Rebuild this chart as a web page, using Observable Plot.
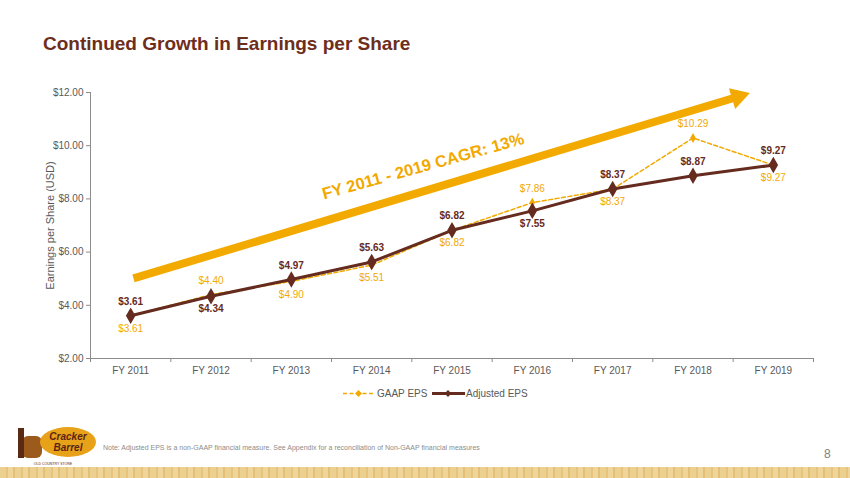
<!DOCTYPE html>
<html>
<head>
<meta charset="utf-8">
<script src="https://cdn.jsdelivr.net/npm/d3@7"></script>
<script src="https://cdn.jsdelivr.net/npm/@observablehq/plot@0.6"></script>
<style>
  html, body { margin: 0; padding: 0; background: #fff; }
  body { width: 850px; height: 478px; position: relative; overflow: hidden; font-family: "Liberation Sans", Arial, sans-serif; }
  #title { position: absolute; left: 43px; top: 33px; font-size: 19px; font-weight: bold; color: #6E2E1C; }
  #chart { position: absolute; left: 0; top: 80px; }
  #legend { position: absolute; left: 0; top: 385px; width: 850px; height: 18px; }
  #note { position: absolute; left: 103px; top: 444px; font-size: 7px; color: #8c8c8c; }
  #page { position: absolute; left: 824px; top: 447px; font-size: 12px; color: #7f7f7f; }
  #band { position: absolute; left: 0; top: 467px; width: 850px; height: 11px;
    background: repeating-linear-gradient(90deg, #ecd08f 0 6px, #e6c47c 6px 8px, #efd599 8px 13px, #e3c075 13px 15px); }
  #logo { position: absolute; left: 8px; top: 424px; }
</style>
</head>
<body>
<div id="title">Continued Growth in Earnings per Share</div>
<div id="chart"></div>
<svg id="legend" width="850" height="18"></svg>
<svg id="logo" width="90" height="44"></svg>
<div id="note">Note: Adjusted EPS is a non-GAAP financial measure. See Appendix for a reconciliation of Non-GAAP financial measures</div>
<div id="page">8</div>
<div id="band"></div>
<script>
// ---- data ----
const years = ["FY 2011", "FY 2012", "FY 2013", "FY 2014", "FY 2015", "FY 2016", "FY 2017", "FY 2018", "FY 2019"];
const gaapEps = [3.61, 4.40, 4.90, 5.51, 6.82, 7.86, 8.37, 10.29, 9.27];
const adjustedEps = [3.61, 4.34, 4.97, 5.63, 6.82, 7.55, 8.37, 8.87, 9.27];
const gaapLabelSide = ["below", "above", "below", "below", "below", "above", "below", "above", "below"];
const adjLabelSide = ["above", "below", "above", "above", "above", "below", "above", "above", "above"];
const yTicks = [2, 4, 6, 8, 10, 12];
const seriesNames = ["GAAP EPS", "Adjusted EPS"];
// trend arrow annotation (in data units: year index, EPS)
const trendX = [0.035, 7.56];
const trendY = [5.01, 11.84];
const cagrLabel = "FY 2011 - 2019 CAGR: 13%";
const cagrPos = [3.64, 9.22];

// ---- colors ----
const gold = "#F2A900";
const brown = "#652B1E";
const axisGray = "#8c8c8c";
const textGray = "#595959";

const idx = years.map((d, i) => i);
const gaap = idx.map(i => ({i, v: gaapEps[i], side: gaapLabelSide[i]}));
const adj = idx.map(i => ({i, v: adjustedEps[i], side: adjLabelSide[i]}));
const fmt = v => "$" + v.toFixed(2);

const chart = Plot.plot({
  width: 850,
  height: 300,
  marginLeft: 90,
  marginRight: 37,
  marginTop: 12,
  marginBottom: 22,
  style: {fontFamily: "Liberation Sans, Arial, sans-serif", background: "transparent"},
  x: {type: "linear", domain: [-0.5, 8.5], axis: null},
  y: {domain: [2, 12], axis: null},
  marks: [
    // trend arrow
    Plot.link([0], {x1: () => trendX[0], y1: () => trendY[0], x2: () => trendX[1], y2: () => trendY[1], stroke: gold, strokeWidth: 8, strokeLinecap: "butt"}),
    Plot.dot([0], {x: () => trendX[1], y: () => trendY[1], symbol: "triangle", r: 8, fill: gold, stroke: "none", rotate: 73}),
    Plot.text([cagrLabel], {x: () => cagrPos[0], y: () => cagrPos[1], text: d => d, rotate: -15.5, fill: gold, fontSize: 16.5, fontWeight: "bold"}),
    // axes
    Plot.ruleY([2], {stroke: axisGray}),
    Plot.ruleX([-0.5], {stroke: axisGray}),
    Plot.axisY({ticks: yTicks, tickFormat: fmt, tickSize: 4, tickPadding: 3, stroke: axisGray, color: textGray, fontSize: 10, label: null}),
    Plot.axisX({ticks: d3.range(-0.5, 9, 1), tickFormat: () => "", tickSize: 4, stroke: axisGray, label: null}),
    Plot.axisX({ticks: idx, tickFormat: i => years[i], tickSize: 0, tickPadding: 8, color: textGray, fontSize: 10, label: null}),
    Plot.text(["Earnings per Share (USD)"], {frameAnchor: "left", textAnchor: "middle", dx: -40, rotate: -90, text: d => d, fill: textGray, fontSize: 11}),
    // GAAP
    Plot.line(gaap, {x: "i", y: "v", stroke: gold, strokeWidth: 1.5, strokeDasharray: "4,2.5"}),
    Plot.dot(gaap, {x: "i", y: "v", symbol: "diamond", r: 3, fill: gold}),
    // Adjusted
    Plot.line(adj, {x: "i", y: "v", stroke: brown, strokeWidth: 3}),
    Plot.dot(adj, {x: "i", y: "v", symbol: "diamond", r: 5, fill: brown}),
    // labels
    Plot.text(gaap, {x: "i", y: "v", text: d => fmt(d.v), fill: gold, fontSize: 10,
      filter: d => d.side === "above", dy: -14}),
    Plot.text(gaap, {x: "i", y: "v", text: d => fmt(d.v), fill: gold, fontSize: 10,
      filter: d => d.side === "below", dy: 13}),
    Plot.text(adj, {x: "i", y: "v", text: d => fmt(d.v), fill: brown, fontSize: 10, fontWeight: "bold",
      filter: d => d.side === "above", dy: -14}),
    Plot.text(adj, {x: "i", y: "v", text: d => fmt(d.v), fill: brown, fontSize: 10, fontWeight: "bold",
      filter: d => d.side === "below", dy: 13})
  ]
});
document.getElementById("chart").appendChild(chart);

// legend
const lg = d3.select("#legend");
const g1 = lg.append("g");
g1.append("line").attr("x1", 343).attr("x2", 374).attr("y1", 8.5).attr("y2", 8.5).attr("stroke", gold).attr("stroke-width", 1.5).attr("stroke-dasharray", "4,2.5");
g1.append("path").attr("d", d3.symbol(d3.symbolDiamond2, 30)()).attr("transform", "translate(358.5,8.5)").attr("fill", gold);
g1.append("text").attr("x", 377).attr("y", 12).text(seriesNames[0]).attr("fill", textGray).attr("font-size", 10);
const g2 = lg.append("g");
g2.append("line").attr("x1", 432).attr("x2", 465).attr("y1", 8.5).attr("y2", 8.5).attr("stroke", brown).attr("stroke-width", 3);
g2.append("path").attr("d", d3.symbol(d3.symbolDiamond2, 30)()).attr("transform", "translate(448,8.5)").attr("fill", brown);
g2.append("text").attr("x", 466).attr("y", 12).text(seriesNames[1]).attr("fill", textGray).attr("font-size", 10);

// simple logo approximation
const lo = d3.select("#logo");
lo.append("rect").attr("x", 14).attr("y", 12).attr("width", 20).attr("height", 22).attr("rx", 6).attr("fill", "#9c5a1c");
lo.append("rect").attr("x", 10).attr("y", 4).attr("width", 6).attr("height", 30).attr("fill", "#5a2a14");
lo.append("ellipse").attr("cx", 60).attr("cy", 18).attr("rx", 28).attr("ry", 15).attr("fill", "#E8A21A");
lo.append("text").attr("x", 60).attr("y", 16).attr("text-anchor", "middle").attr("font-size", 10).attr("font-style", "italic").attr("font-weight", "bold").attr("fill", "#5a2412").text("Cracker");
lo.append("text").attr("x", 60).attr("y", 27).attr("text-anchor", "middle").attr("font-size", 10).attr("font-style", "italic").attr("font-weight", "bold").attr("fill", "#5a2412").text("Barrel");
lo.append("text").attr("x", 45).attr("y", 41).attr("text-anchor", "middle").attr("font-size", 3.5).attr("fill", "#5a2412").text("OLD COUNTRY STORE");
</script>
</body>
</html>
